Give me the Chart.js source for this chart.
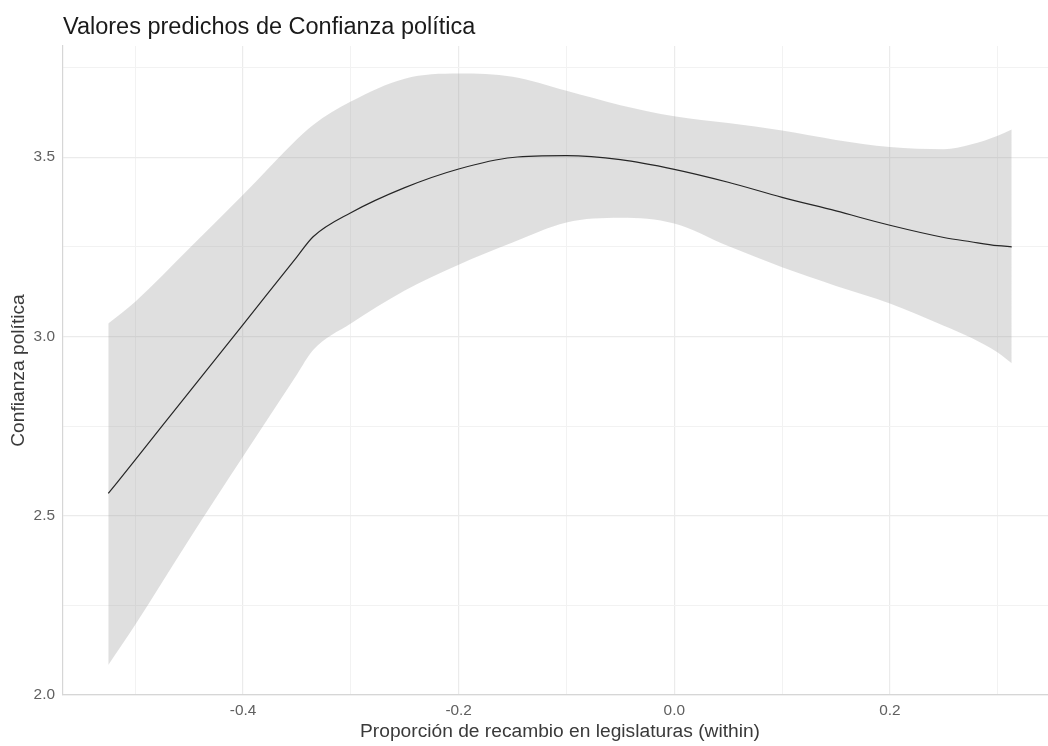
<!DOCTYPE html>
<html>
<head>
<meta charset="utf-8">
<script src="https://cdn.jsdelivr.net/npm/chart.js@4/dist/chart.umd.min.js"></script>
<style>
  html, body { margin: 0; padding: 0; background: #ffffff; overflow: hidden; }
  #wrap { position: absolute; left: 0; top: 0; width: 1060px; height: 746px; }
</style>
</head>
<body>
<div id="wrap"><canvas id="chart" width="1060" height="746"></canvas></div>
<script>
// Predicted values of political trust across legislative turnover (within)
const xVals     = [-0.525, -0.5, -0.45, -0.4, -0.35, -0.335, -0.3, -0.25, -0.2, -0.15, -0.1, -0.05, 0, 0.05, 0.1, 0.15, 0.2, 0.25, 0.275, 0.3, 0.313];
const fitVals   = [2.562, 2.656, 2.845, 3.033, 3.222, 3.278, 3.345, 3.415, 3.467, 3.499, 3.504, 3.493, 3.466, 3.43, 3.388, 3.35, 3.31, 3.276, 3.264, 3.253, 3.25];
const upperVals = [3.036, 3.097, 3.245, 3.395, 3.55, 3.59, 3.655, 3.719, 3.733, 3.724, 3.685, 3.645, 3.614, 3.595, 3.574, 3.548, 3.528, 3.522, 3.535, 3.56, 3.577];
const lowerVals = [2.084, 2.196, 2.434, 2.665, 2.894, 2.962, 3.036, 3.128, 3.2, 3.262, 3.318, 3.331, 3.315, 3.252, 3.193, 3.141, 3.092, 3.03, 2.997, 2.955, 2.925];

// Axis breaks: major breaks carry labels, minor breaks only draw grid lines
const xGridVals   = [-0.5, -0.4, -0.3, -0.2, -0.1, 0, 0.1, 0.2, 0.3];
const xMajorVals  = [-0.4, -0.2, 0, 0.2];
const xTickLabels = ['-0.4', '-0.2', '0.0', '0.2'];
const yGridVals   = [2.0, 2.25, 2.5, 2.75, 3.0, 3.25, 3.5, 3.75];
const yMajorVals  = [2.0, 2.5, 3.0, 3.5];
const yTickLabels = ['2.0', '2.5', '3.0', '3.5'];

const titleText  = 'Valores predichos de Confianza política';
const xAxisTitle = 'Proporción de recambio en legislaturas (within)';
const yAxisTitle = 'Confianza política';

const FONT = '"Liberation Sans", Arial, Helvetica, sans-serif';

function toPoints(xs, ys) { return xs.map((x, i) => ({ x: x, y: ys[i] })); }
function labelFor(value, majors, labels) {
  const i = majors.findIndex(v => Math.abs(v - value) < 1e-9);
  return i >= 0 ? labels[i] : '';
}
function isMajor(value, majors) { return majors.some(v => Math.abs(v - value) < 1e-9); }

const plotTitle = {
  id: 'plotTitle',
  afterDraw(chart) {
    const ctx = chart.ctx;
    ctx.save();
    ctx.font = '23.5px ' + FONT;
    ctx.fillStyle = '#1a1a1a';
    ctx.textAlign = 'left';
    ctx.textBaseline = 'alphabetic';
    ctx.fillText(titleText, chart.chartArea.left, 34);
    ctx.restore();
  }
};

new Chart(document.getElementById('chart'), {
  type: 'line',
  data: {
    datasets: [
      {
        label: 'Predicho',
        data: toPoints(xVals, fitVals),
        borderColor: '#262626',
        borderWidth: 1.2,
        pointRadius: 0,
        fill: false,
        cubicInterpolationMode: 'monotone'
      },
      {
        label: 'IC inferior',
        data: toPoints(xVals, lowerVals),
        borderWidth: 0,
        borderColor: 'rgba(0,0,0,0)',
        pointRadius: 0,
        fill: false,
        cubicInterpolationMode: 'monotone'
      },
      {
        label: 'IC superior',
        data: toPoints(xVals, upperVals),
        borderWidth: 0,
        borderColor: 'rgba(0,0,0,0)',
        backgroundColor: 'rgba(150,150,150,0.3)',
        pointRadius: 0,
        fill: '-1',
        cubicInterpolationMode: 'monotone'
      }
    ]
  },
  options: {
    responsive: false,
    animation: false,
    devicePixelRatio: 1,
    layout: { padding: { top: 46, right: 3, left: 0, bottom: 0 } },
    plugins: {
      legend: { display: false },
      tooltip: { enabled: false },
      title: { display: false }
    },
    scales: {
      x: {
        type: 'linear',
        min: -0.567,
        max: 0.355,
        afterBuildTicks: s => { s.ticks = xGridVals.map(v => ({ value: v })); },
        afterFit: s => { s.height = 51; },
        grid: {
          drawTicks: false,
          color: c => isMajor(c.tick.value, xMajorVals) ? '#ebebeb' : '#f2f2f2',
          lineWidth: c => isMajor(c.tick.value, xMajorVals) ? 1.2 : 1
        },
        border: { display: true, color: '#d6d6d6', width: 1.2 },
        ticks: {
          autoSkip: false,
          maxRotation: 0,
          padding: 7,
          color: '#606060',
          font: { family: FONT, size: 15.4 },
          callback: v => labelFor(v, xMajorVals, xTickLabels)
        },
        title: {
          display: true,
          text: xAxisTitle,
          color: '#3a3a3a',
          font: { family: FONT, size: 19.2 },
          padding: { top: 0, bottom: 3 }
        }
      },
      y: {
        type: 'linear',
        min: 2.0,
        max: 3.81,
        afterBuildTicks: s => { s.ticks = yGridVals.map(v => ({ value: v })); },
        afterFit: s => { s.width = 63; },
        grid: {
          drawTicks: false,
          color: c => isMajor(c.tick.value, yMajorVals) ? '#ebebeb' : '#f2f2f2',
          lineWidth: c => isMajor(c.tick.value, yMajorVals) ? 1.2 : 1
        },
        border: { display: true, color: '#d6d6d6', width: 1.2 },
        ticks: {
          autoSkip: false,
          padding: 8,
          color: '#606060',
          font: { family: FONT, size: 15.4 },
          callback: v => labelFor(v, yMajorVals, yTickLabels)
        },
        title: {
          display: true,
          text: yAxisTitle,
          color: '#3a3a3a',
          font: { family: FONT, size: 19.2 },
          padding: { top: 7, bottom: 0 }
        }
      }
    }
  },
  plugins: [plotTitle]
});
</script>
</body>
</html>
